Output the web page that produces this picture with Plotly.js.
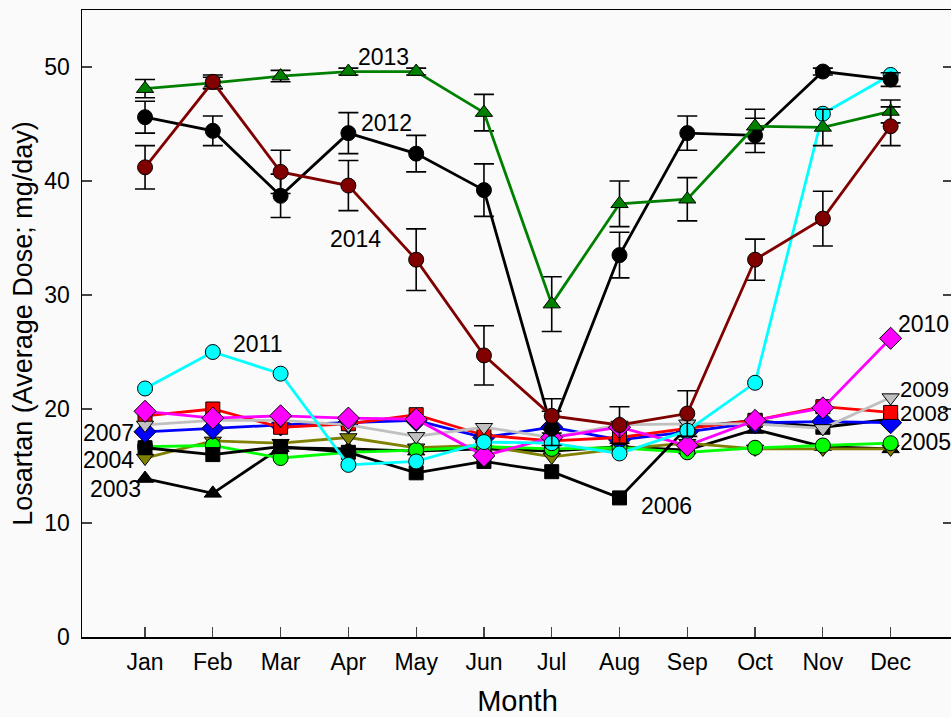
<!DOCTYPE html>
<html><head><meta charset="utf-8">
<script src="https://cdn.plot.ly/plotly-3.0.1.min.js"></script>
<style>html,body{margin:0;padding:0;overflow:hidden;background:#fafafa}</style>
</head><body><div id="chart" style="width:960px;height:717px"></div>
<script>
const months = ["Jan","Feb","Mar","Apr","May","Jun","Jul","Aug","Sep","Oct","Nov","Dec"];
const monthIdx = [1,2,3,4,5,6,7,8,9,10,11,12];

const y2003 = [13.9,12.6,16.6,16.5,16.3,16.5,16.3,16.7,16.4,18.2,16.7,16.5];
const y2004 = [15.7,17.2,17.0,17.5,16.6,16.8,15.8,16.5,17.0,16.5,16.5,16.5];
const y2005 = [16.7,16.8,15.7,16.2,16.4,16.7,16.5,16.6,16.2,16.6,16.8,17.0];
const y2006 = [16.6,16.0,16.7,16.2,14.4,15.4,14.5,12.2,18.4,19.0,18.4,19.1];
const y2007 = [18.0,18.3,18.6,18.8,19.0,17.5,18.4,17.3,18.0,18.8,18.9,18.8];
const y2008 = [19.4,20.0,18.4,18.7,19.5,17.7,17.2,17.5,18.3,19.0,20.2,19.7];
const y2009 = [18.6,19.0,19.0,18.6,17.6,18.4,17.5,18.6,18.7,18.7,18.3,21.0];
const y2010 = [19.8,19.2,19.4,19.2,19.1,15.9,17.5,18.4,16.8,19.0,20.1,26.2];
const y2011 = [21.8,25.0,23.1,15.1,15.4,17.1,17.0,16.1,18.1,22.3,45.9,49.3];
const y2012 = [45.6,44.4,38.7,44.2,42.4,39.2,18.3,33.5,44.2,44.0,49.6,48.9];
const e2012 = [1.4,1.3,1.9,1.8,1.6,2.3,1.5,2.0,1.5,1.5,0.3,0.6];
const y2013 = [48.1,48.6,49.2,49.6,49.6,46.0,29.2,38.0,38.4,44.8,44.7,46.1];
const e2013 = [0.8,0.5,0.5,0.3,0.3,1.6,2.4,2.0,1.9,1.5,1.6,1.0];
const y2014 = [41.2,48.7,40.8,39.6,33.1,24.7,19.4,18.6,19.6,33.1,36.7,44.8];
const e2014 = [1.9,0.6,1.9,2.2,2.7,2.6,1.5,1.6,2.0,1.8,2.4,1.7];

const yearLabels = ["2003","2004","2005","2006","2007","2008","2009","2010","2011","2012","2013","2014"];
const seriesY = [y2003,y2004,y2005,y2006,y2007,y2008,y2009,y2010,y2011,y2012,y2013,y2014];
const seriesErr = [null,null,null,null,null,null,null,null,null,e2012,e2013,e2014];
const lineColors = ["#000000","#808000","#00ff00","#000000","#0000ff","#ff0000","#c0c0c0","#ff00ff","#00ffff","#000000","#008000","#800000"];
const markerSymbols = ["triangle-up","triangle-down","circle","square","diamond","square","triangle-down","diamond","circle","circle","triangle-up","circle"];
const symbolSize = {"circle":15,"square":14,"diamond":17,"triangle-up":15,"triangle-down":15};

const traces = seriesY.map((ys,i)=>{
  const t = {
    x: monthIdx, y: ys, type:'scatter', mode:'lines+markers', name: yearLabels[i],
    line:{color:lineColors[i], width:2.8},
    marker:{symbol:markerSymbols[i], color:lineColors[i], size:symbolSize[markerSymbols[i]], line:{color:'#000', width:1}},
    cliponaxis:false
  };
  if (seriesErr[i]) t.error_y = {type:'data', array:seriesErr[i], visible:true, color:'#000', thickness:1.6, width:10};
  return t;
});

const FONT = 'Liberation Sans, Arial, sans-serif';
const labelPos = [
  {t:"2013", x:4.524, y:50.9, a:'center', s:23},
  {t:"2012", x:4.568, y:45.1, a:'center', s:23},
  {t:"2014", x:4.10, y:34.9, a:'center', s:23},
  {t:"2011", x:2.666, y:25.7, a:'center', s:23},
  {t:"2007", x:0.454, y:17.9, a:'center', s:23},
  {t:"2004", x:0.454, y:15.5, a:'center', s:23},
  {t:"2003", x:0.558, y:13.0, a:'center', s:23},
  {t:"2006", x:8.30, y:11.5, a:'left', s:23},
  {t:"2010", x:12.09, y:27.45, a:'left', s:23},
  {t:"2009", x:12.12, y:21.75, a:'left', s:22},
  {t:"2008", x:12.12, y:19.6, a:'left', s:22},
  {t:"2005", x:12.13, y:17.1, a:'left', s:23}
];
const annotations = labelPos.map(a=>({x:a.x, y:a.y, xref:'x', yref:'y', text:a.t, showarrow:false,
  font:{family:FONT, size:a.s, color:'#000'}, xanchor:a.a, yanchor:'middle', borderpad:0}));

const layout = {
  width:960, height:717,
  margin:{l:82, r:7, t:10, b:80},
  paper_bgcolor:'#fafafa', plot_bgcolor:'#fafafa',
  showlegend:false,
  font:{family:FONT, color:'#000'},
  xaxis:{range:[0.07,12.92], tickvals:monthIdx, ticktext:months, ticks:'inside', ticklen:10, tickwidth:1.2,
    showline:true, linecolor:'#000', linewidth:1.5, mirror:true, showgrid:false, zeroline:false,
    tickfont:{size:23}, ticklabelstandoff:4,
    title:{text:'Month', font:{size:29}, standoff:22}},
  yaxis:{range:[0,55], tickvals:[0,10,20,30,40,50], ticks:'inside', ticklen:10, tickwidth:1.2,
    showline:true, linecolor:'#000', linewidth:1.5, mirror:'ticks', showgrid:false, zeroline:false,
    tickfont:{size:23}, ticklabelstandoff:6,
    title:{text:'Losartan (Average Dose; mg/day)', font:{size:27}, standoff:4}},
  annotations: annotations
};
Plotly.newPlot('chart', traces, layout, {displayModeBar:false, staticPlot:true});
</script></body></html>
